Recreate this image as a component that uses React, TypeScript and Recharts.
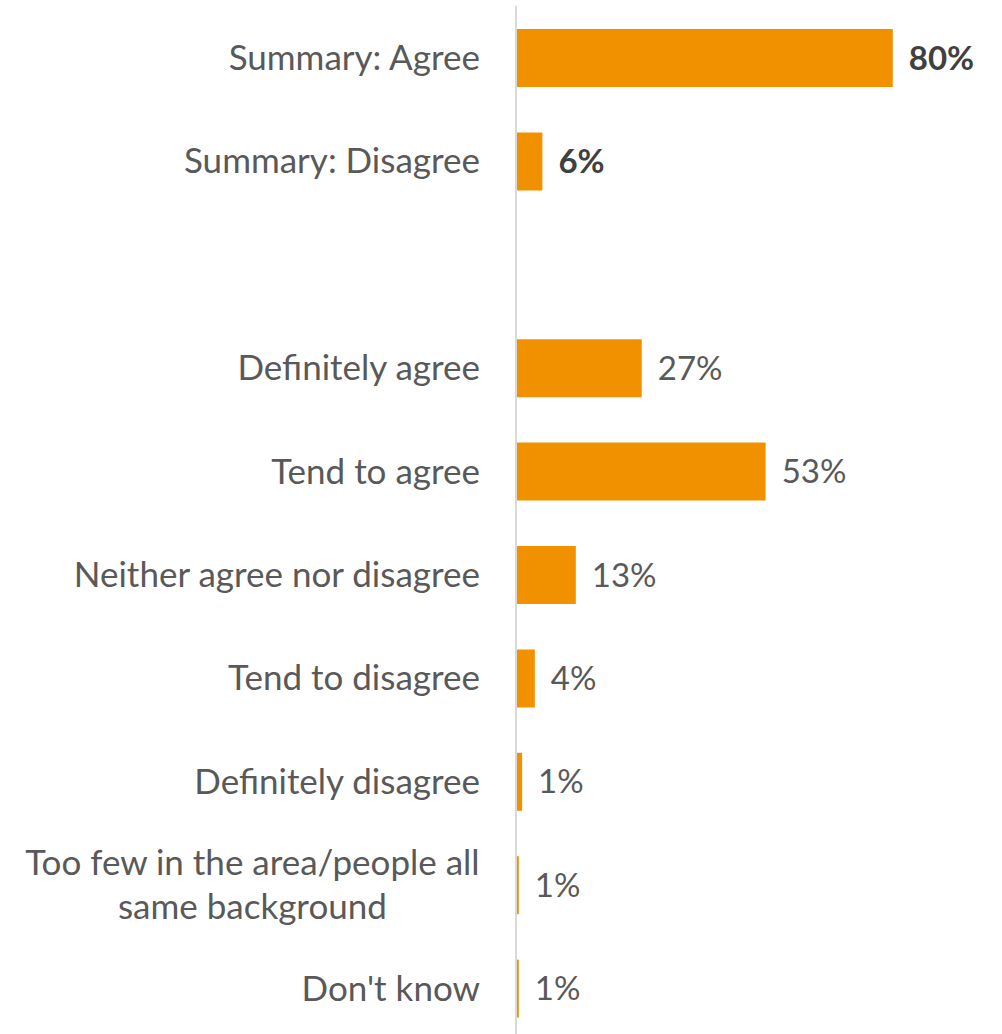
import React from "react";
import { BarChart, Bar, XAxis, YAxis, LabelList } from "recharts";

const categories = [
  "Summary: Agree",
  "Summary: Disagree",
  " ",
  "Definitely agree",
  "Tend to agree",
  "Neither agree nor disagree",
  "Tend to disagree",
  "Definitely disagree",
  "Too few in the area/people all|same background",
  "Don't know",
];
const values = [80, 5.6, 0, 26.7, 53, 12.7, 4, 1.3, 0.6, 0.6];
const valueLabels = ["80%", "6%", "", "27%", "53%", "13%", "4%", "1%", "1%", "1%"];
const boldRows = [true, true, false, false, false, false, false, false, false, false];

const data = categories.map((name, i) => ({
  name,
  value: values[i],
  label: valueLabels[i],
  bold: boldRows[i],
}));

const FONT = "Lato, 'Open Sans', sans-serif";
const FONT_SIZE = 35;
const VALUE_SIZE = 33;
const TICK_END = 28; // gap between label text and the axis line

let ctx: CanvasRenderingContext2D | null = null;
const measure = (s: string) => {
  if (!ctx) ctx = document.createElement("canvas").getContext("2d");
  if (!ctx) return s.length * FONT_SIZE * 0.5;
  ctx.font = `${FONT_SIZE}px ${FONT}`;
  return ctx.measureText(s).width;
};

const CategoryTick = (props: any) => {
  const { x, y, payload } = props;
  const lines = String(payload.value).split("|");
  if (lines.length === 1) {
    return (
      <text x={x - TICK_END} y={y} dy="0.35em" textAnchor="end" fill="#595959"
        fontSize={FONT_SIZE} fontFamily={FONT}>
        {lines[0]}
      </text>
    );
  }
  const w = Math.max(...lines.map(measure));
  const cx = x - TICK_END - w / 2;
  const lh = FONT_SIZE * 1.24;
  const top = y - ((lines.length - 1) * lh) / 2;
  return (
    <text x={cx} y={top} textAnchor="middle" fill="#595959" fontSize={FONT_SIZE} fontFamily={FONT}>
      {lines.map((l, i) => (
        <tspan key={i} x={cx} y={top + i * lh} dy="0.35em">
          {l}
        </tspan>
      ))}
    </text>
  );
};

const ValueLabel = (props: any) => {
  const { x, y, width, height, value } = props;
  const row = data.find((d) => d.name === value);
  if (!row || !row.label) return null;
  return (
    <text x={x + width + 16} y={y + height / 2} dy="0.35em" textAnchor="start"
      fill={row.bold ? "#404040" : "#595959"} fontWeight={row.bold ? 700 : 400}
      fontSize={VALUE_SIZE} fontFamily={FONT}>
      {row.label}
    </text>
  );
};

export default function App() {
  return (
    <div style={{ position: "absolute", left: 0, top: 0, width: 1002, height: 1034, overflow: "hidden", background: "#fff" }}>
      <BarChart
        width={1002}
        height={1040}
        data={data}
        layout="vertical"
        margin={{ top: 6, right: 15, bottom: 0, left: 0 }}
        barSize={58}
      >
        <XAxis type="number" domain={[0, 100]} hide />
        <YAxis
          type="category"
          dataKey="name"
          width={516}
          tickLine={false}
          axisLine={{ stroke: "#d9d9d9", strokeWidth: 2 }}
          tick={<CategoryTick />}
          interval={0}
        />
        <Bar dataKey="value" fill="#f29100" isAnimationActive={false}>
          <LabelList dataKey="name" content={<ValueLabel />} />
        </Bar>
      </BarChart>
    </div>
  );
}
